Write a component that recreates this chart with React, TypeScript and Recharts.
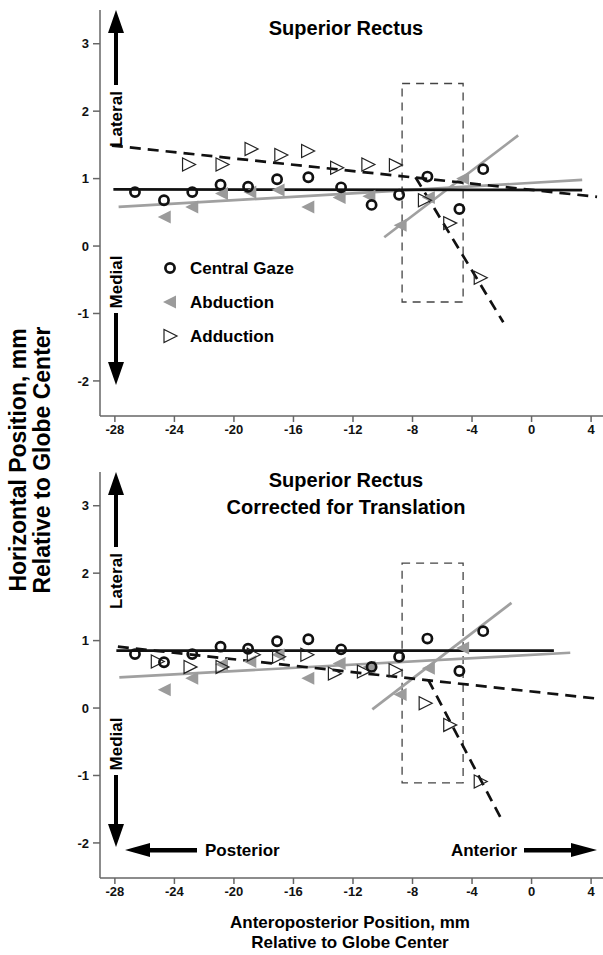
import React from 'react';
import { ComposedChart, XAxis, YAxis, Scatter, Line, ReferenceArea } from 'recharts';

const xTicks = [-28, -24, -20, -16, -12, -8, -4, 0, 4];
const yTicks = [-2, -1, 0, 1, 2, 3];

// central gaze (same in both panels)
const gazeX = [-26.65, -24.7, -22.8, -20.9, -19.05, -17.1, -15.0, -12.8, -10.75, -8.9, -7.0, -4.85, -3.25];
const gazeY = [0.8, 0.68, 0.8, 0.91, 0.88, 0.99, 1.02, 0.87, 0.61, 0.76, 1.03, 0.55, 1.14];

// abduction
const abdX = [-24.65, -22.8, -20.8, -18.9, -17.0, -15.0, -12.9, -10.9, -8.8, -6.9, -4.6];
const abdY = [0.43, 0.58, 0.78, 0.8, 0.83, 0.58, 0.72, 0.74, 0.31, 0.72, 1.0];
const abdYCorr = [0.27, 0.44, 0.65, 0.69, 0.79, 0.44, 0.66, 0.61, 0.2, 0.59, 0.89];

// adduction
const addX = [-23.05, -20.8, -18.85, -16.85, -15.05, -13.1, -11.0, -9.15, -7.2, -5.5, -3.45];
const addY = [1.21, 1.21, 1.44, 1.35, 1.41, 1.16, 1.21, 1.2, 0.68, 0.34, -0.47];
const addXCorr = [-25.15, -22.95, -20.8, -18.7, -17.0, -15.1, -13.25, -11.3, -9.17, -7.15, -5.5, -3.45];
const addYCorr = [0.69, 0.61, 0.61, 0.79, 0.76, 0.79, 0.51, 0.54, 0.56, 0.07, -0.25, -1.09];

// regression line end points [x0, x1], [y0, y1]
const fitsTop = {
  gaze: [[-28.1, 3.4], [0.84, 0.83]],
  abdPost: [[-27.75, 3.4], [0.58, 0.98]],
  abdAnt: [[-9.9, -0.9], [0.13, 1.64]],
  addPost: [[-28.2, 4.4], [1.49, 0.73]],
  addAnt: [[-7.8, -1.9], [1.02, -1.13]],
};
const fitsCorr = {
  gaze: [[-27.9, 1.5], [0.85, 0.85]],
  abdPost: [[-27.7, 2.6], [0.455, 0.82]],
  abdAnt: [[-10.7, -1.35], [-0.02, 1.56]],
  addPost: [[-27.8, 4.4], [0.91, 0.14]],
  addAnt: [[-6.95, -2.0], [0.42, -1.66]],
};

const boxTop = { x1: -8.7, x2: -4.6, y1: -0.83, y2: 2.41 };
const boxCorr = { x1: -8.7, x2: -4.6, y1: -1.11, y2: 2.15 };

const font = '"Liberation Sans", Arial, Helvetica, sans-serif';
const pts = (xs: number[], ys: number[]) => xs.map((x, i) => ({ x, y: ys[i] }));

const Ring = (p: any) => (
  <circle cx={p.cx} cy={p.cy} r={4.6} fill="none" stroke="#111" strokeWidth={2.7} />
);
const LeftTri = (p: any) => (
  <polygon
    points={`${p.cx - 7},${p.cy} ${p.cx + 6},${p.cy - 6.5} ${p.cx + 6},${p.cy + 6.5}`}
    fill="#9b9b9b"
  />
);
const RightTri = (p: any) => (
  <polygon
    points={`${p.cx - 6},${p.cy - 6.5} ${p.cx - 6},${p.cy + 6.5} ${p.cx + 7},${p.cy}`}
    fill="none"
    stroke="#222"
    strokeWidth={1.2}
  />
);

const axisStyle = { stroke: '#666', strokeWidth: 1.5 };
const tickStyle = { fontSize: 13, fontWeight: 700, fill: '#111', fontFamily: font };

function Panel({ top, abdYs, addXs, addYs, fits, box }: any) {
  const fitLine = (f: number[][], color: string, dash?: string) => (
    <Line
      data={pts(f[0], f[1])}
      dataKey="y"
      stroke={color}
      strokeWidth={2.7}
      strokeDasharray={dash}
      dot={false}
      isAnimationActive={false}
    />
  );
  return (
    <div style={{ position: 'absolute', left: 0, top }}>
      <ComposedChart width={603} height={460} margin={{ top: 10, right: 0, bottom: 0, left: 0 }}>
        <XAxis
          type="number"
          dataKey="x"
          domain={[-29, 4.8]}
          ticks={xTicks}
          interval={0}
          allowDataOverflow
          axisLine={axisStyle}
          tickLine={axisStyle}
          tick={tickStyle}
          tickSize={6}
          tickMargin={3}
          height={44}
        />
        <YAxis
          type="number"
          dataKey="y"
          domain={[-2.52, 3.5]}
          ticks={yTicks}
          interval={0}
          allowDataOverflow
          axisLine={axisStyle}
          tickLine={axisStyle}
          tick={tickStyle}
          tickSize={7}
          tickMargin={4}
          width={100}
        />
        <ReferenceArea
          x1={box.x1}
          x2={box.x2}
          y1={box.y1}
          y2={box.y2}
          fill="none"
          stroke="#444"
          strokeWidth={1.3}
          strokeDasharray="8 6"
        />
        {fitLine(fits.abdPost, '#a0a0a0')}
        {fitLine(fits.abdAnt, '#a0a0a0')}
        {fitLine(fits.gaze, '#111')}
        {fitLine(fits.addPost, '#111', '11 7')}
        {fitLine(fits.addAnt, '#111', '11 7')}
        <Scatter data={pts(abdX, abdYs)} shape={LeftTri} isAnimationActive={false} />
        <Scatter data={pts(addXs, addYs)} shape={RightTri} isAnimationActive={false} />
        <Scatter data={pts(gazeX, gazeY)} shape={Ring} isAnimationActive={false} />
      </ComposedChart>
    </div>
  );
}

function VArrows({ dy }: { dy: number }) {
  const x = 116;
  return (
    <g>
      <polygon points={`${x},${10 + dy} ${x - 8},${33 + dy} ${x + 8},${33 + dy}`} fill="#000" />
      <rect x={x - 2} y={32 + dy} width={4} height={53} fill="#000" />
      <text
        transform={`translate(${x + 6},${119 + dy}) rotate(-90)`}
        textAnchor="middle"
        fontSize={17}
        fontWeight={700}
        fontFamily={font}
      >
        Lateral
      </text>
      <text
        transform={`translate(${x + 6},${282 + dy}) rotate(-90)`}
        textAnchor="middle"
        fontSize={17}
        fontWeight={700}
        fontFamily={font}
      >
        Medial
      </text>
      <rect x={x - 2} y={313 + dy} width={4} height={50} fill="#000" />
      <polygon points={`${x},${385 + dy} ${x - 8},${362 + dy} ${x + 8},${362 + dy}`} fill="#000" />
    </g>
  );
}

export default function App() {
  const t = { fontFamily: font, fontWeight: 700 } as const;
  return (
    <div style={{ position: 'absolute', left: 0, top: 0, width: 603, height: 955, background: '#fff' }}>
      <Panel top={0} abdYs={abdY} addXs={addX} addYs={addY} fits={fitsTop} box={boxTop} />
      <Panel top={462} abdYs={abdYCorr} addXs={addXCorr} addYs={addYCorr} fits={fitsCorr} box={boxCorr} />
      <svg
        width={603}
        height={955}
        style={{ position: 'absolute', left: 0, top: 0, pointerEvents: 'none' }}
      >
        <text x={346} y={35} textAnchor="middle" fontSize={20} {...t}>
          Superior Rectus
        </text>
        <text x={346} y={487} textAnchor="middle" fontSize={20} {...t}>
          Superior Rectus
        </text>
        <text x={346} y={514} textAnchor="middle" fontSize={20} {...t}>
          Corrected for Translation
        </text>

        <VArrows dy={0} />
        <VArrows dy={462} />

        {/* legend */}
        <circle cx={170} cy={268} r={4.6} fill="none" stroke="#111" strokeWidth={2.7} />
        <text x={190} y={274} fontSize={17} {...t}>Central Gaze</text>
        <polygon points="163,302 176,295.5 176,308.5" fill="#9b9b9b" />
        <text x={190} y={308} fontSize={17} {...t}>Abduction</text>
        <polygon points="164,329.5 164,342.5 177,336" fill="none" stroke="#222" strokeWidth={1.2} />
        <text x={190} y={342} fontSize={17} {...t}>Adduction</text>

        {/* posterior / anterior arrows */}
        <polygon points="125,850 150,843 150,857" fill="#000" />
        <rect x={149} y={848} width={48} height={4.5} fill="#000" />
        <text x={205} y={856} fontSize={17} {...t}>Posterior</text>
        <text x={517} y={856} textAnchor="end" fontSize={17} {...t}>Anterior</text>
        <rect x={524} y={848} width={48} height={4.5} fill="#000" />
        <polygon points="597,850 571,843 571,857" fill="#000" />

        {/* axis titles */}
        <text transform="translate(26,460) rotate(-90)" textAnchor="middle" fontSize={23} {...t}>
          Horizontal Position, mm
        </text>
        <text transform="translate(50,460) rotate(-90)" textAnchor="middle" fontSize={23} {...t}>
          Relative to Globe Center
        </text>
        <text x={350} y={928} textAnchor="middle" fontSize={17} {...t}>
          Anteroposterior Position, mm
        </text>
        <text x={350} y={948} textAnchor="middle" fontSize={17} {...t}>
          Relative to Globe Center
        </text>
      </svg>
    </div>
  );
}
